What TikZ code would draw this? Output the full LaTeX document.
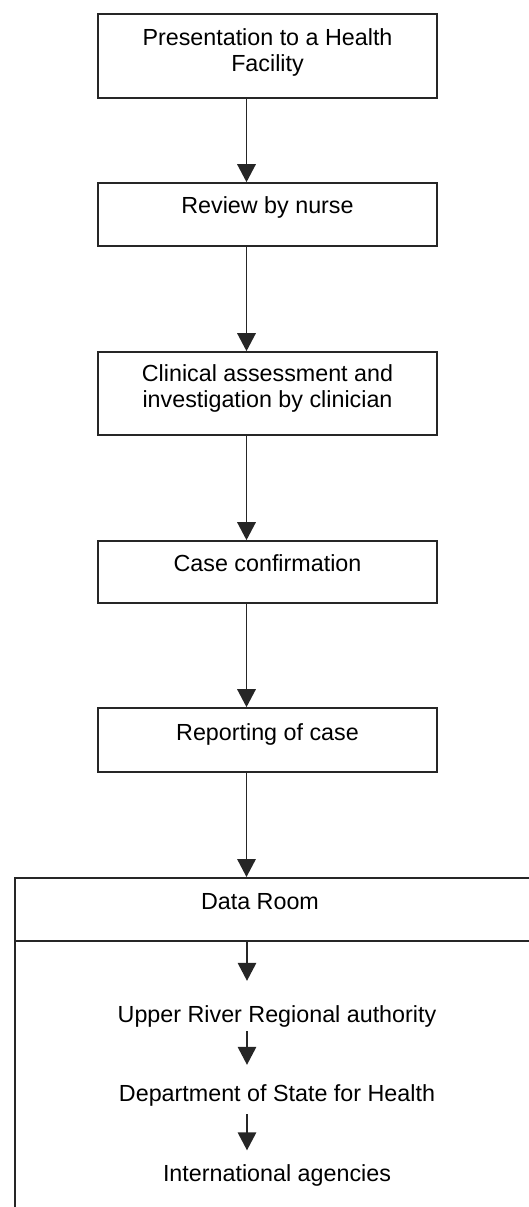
\documentclass[tikz,border=0pt]{standalone}
\usepackage{fontspec}
\setmainfont{Liberation Sans}
\usetikzlibrary{arrows.meta}
\begin{document}
\begin{tikzpicture}[x=1bp,y=-1bp,
  boxshape/.style={draw=black!85, line width=1.7bp, rectangle, minimum width=339bp, inner sep=0pt},
  lbl/.style={font=\fontsize{23.3bp}{26.5bp}\selectfont, align=center, inner sep=0pt, text height=17bp, text depth=5bp},
  lbltwo/.style={font=\fontsize{23.3bp}{26.5bp}\selectfont, align=center, inner sep=0pt},
  arr/.style={draw=black!85, line width=1.7bp, -{Triangle[width=18.5bp,length=18bp]}},
  ln/.style={draw=black!85, line width=1.7bp},
]
\useasboundingbox (0,0) rectangle (529,1207);
\clip (0,0) rectangle (529,1207);
\coordinate (ax) at (246.5,0);
\coordinate (ix) at (247,0);

% boxes
\node[boxshape, minimum height=84bp] (b1) at (267.5,56) {};
\node[boxshape, minimum height=63bp] (b2) at (267.5,214.5) {};
\node[boxshape, minimum height=83bp] (b3) at (267.5,393.5) {};
\node[boxshape, minimum height=62bp] (b4) at (267.5,572) {};
\node[boxshape, minimum height=64bp] (b5) at (267.5,740) {};
\node[boxshape, anchor=north west, minimum width=700bp, minimum height=500bp] (dr) at (14,877) {};
\coordinate (div) at (14,941);
\draw[ln] (div) -- (div -| 600,0);

% texts
\node[lbltwo] (t1) at (267.5,52.5) {Presentation to a Health\\Facility};
\node[lbl] (t2) at (267.5,207) {Review by nurse};
\node[lbltwo] (t3) at (267.5,388.7) {Clinical assessment and\\investigation by clinician};
\node[lbl] (t4) at (267.5,565) {Case confirmation};
\node[lbl] (t5) at (267.5,734) {Reporting of case};
\node[lbl] (t6) at (260,903) {Data Room};
\node[lbl] (t7) at (277,1016) {Upper River Regional authority};
\node[lbl] (t8) at (277,1095) {Department of State for Health};
\node[lbl] (t9) at (277,1175) {International agencies};

% connectors
\draw[arr] (b1.south -| ax) -- (b2.north -| ax);
\draw[arr] (b2.south -| ax) -- (b3.north -| ax);
\draw[arr] (b3.south -| ax) -- (b4.north -| ax);
\draw[arr] (b4.south -| ax) -- (b5.north -| ax);
\draw[arr] (b5.south -| ax) -- (dr.north -| ax);
\draw[arr, shorten >=24bp] (div -| ix) -- (t7.north -| ix);
\draw[arr, shorten <=4bp, shorten >=19bp] (t7.south -| ix) -- (t8.north -| ix);
\draw[arr, shorten <=8bp, shorten >=13.5bp] (t8.south -| ix) -- (t9.north -| ix);
\end{tikzpicture}
\end{document}
